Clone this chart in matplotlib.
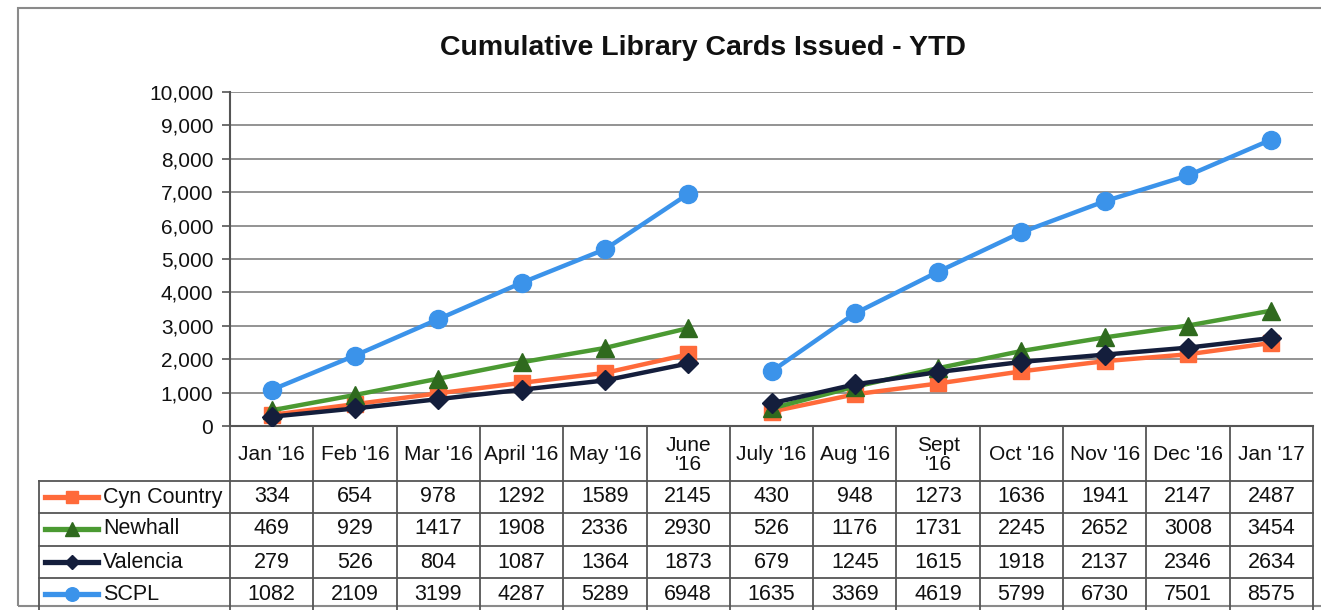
import numpy as np
import matplotlib
matplotlib.use('Agg')
import matplotlib.pyplot as plt
import matplotlib.transforms as mtransforms
from matplotlib.lines import Line2D
from matplotlib.patches import Rectangle

months = ["Jan '16", "Feb '16", "Mar '16", "April '16", "May '16", "June\n'16",
          "July '16", "Aug '16", "Sept\n'16", "Oct '16", "Nov '16", "Dec '16", "Jan '17"]
cyn_country = [334, 654, 978, 1292, 1589, 2145, 430, 948, 1273, 1636, 1941, 2147, 2487]
newhall = [469, 929, 1417, 1908, 2336, 2930, 526, 1176, 1731, 2245, 2652, 3008, 3454]
valencia = [279, 526, 804, 1087, 1364, 1873, 679, 1245, 1615, 1918, 2137, 2346, 2634]
scpl = [1082, 2109, 3199, 4287, 5289, 6948, 1635, 3369, 4619, 5799, 6730, 7501, 8575]

series_names = ['Cyn Country', 'Newhall', 'Valencia', 'SCPL']
series_vals = [cyn_country, newhall, valencia, scpl]
line_cols = ['#FF6A3A', '#4B9A32', '#141E3C', '#3B93EA']
marker_cols = ['#FF6A3A', '#2F6A1E', '#141E3C', '#3B93EA']
markers = ['s', '^', 'D', 'o']
msizes = [12, 13, 10, 13]

W, H = 1321, 610
plt.rcParams['font.family'] = ['Liberation Sans', 'DejaVu Sans']
fig = plt.figure(figsize=(W / 100, H / 100), dpi=100)

def fx(px):
    return px / W

def fy(py):
    return 1 - py / H

left, right, top, bottom = 230, 1313, 92, 426
ax = fig.add_axes([fx(left), fy(bottom), fx(right - left), (bottom - top) / H])

x = np.arange(len(months))
split = 6  # fiscal year restarts in July
for name, vals, lc, mc, mk, ms in zip(series_names, series_vals, line_cols,
                                      marker_cols, markers, msizes):
    v = np.array(vals, dtype=float)
    for seg in (slice(0, split), slice(split, len(months))):
        ax.plot(x[seg], v[seg], color=lc, lw=3.2, marker=mk, ms=ms,
                mfc=mc, mec=mc, zorder=3)

ax.set_xlim(-0.5, len(months) - 0.5)
ax.set_ylim(0, 10000)
ax.set_yticks(np.arange(0, 10001, 1000))
ax.set_yticklabels(['{:,}'.format(v) for v in range(0, 10001, 1000)], fontsize=15, color='#111111')
ax.set_xticks([])
ax.grid(axis='y', color='#8a8a8a', lw=1.3, zorder=0)
ax.tick_params(axis='y', length=6, width=1.2, color='#555555', pad=6)
for s in ['top', 'right']:
    ax.spines[s].set_visible(False)
for s in ['left', 'bottom']:
    ax.spines[s].set_color('#555555')
    ax.spines[s].set_linewidth(1.5)

fig.text(fx(703), fy(48), 'Cumulative Library Cards Issued - YTD', ha='center', va='center',
         fontsize=20.5, fontweight='bold', color='#111111')

# data table under the chart
tr = mtransforms.blended_transform_factory(ax.transData, fig.transFigure)
grid_col = '#555555'
for i in range(len(months) + 1):
    fig.add_artist(Line2D([i - 0.5, i - 0.5], [fy(bottom), fy(H)], transform=tr,
                          color=grid_col, lw=1.3))
row_lines = [481, 513, 546, 578]
for ry in row_lines:
    fig.add_artist(Line2D([fx(39), fx(right)], [fy(ry), fy(ry)], transform=fig.transFigure,
                          color=grid_col, lw=1.3))
fig.add_artist(Line2D([fx(39), fx(39)], [fy(481), fy(H)], transform=fig.transFigure,
                      color=grid_col, lw=1.3))

for i, m in enumerate(months):
    fig.text(i, fy(455), m, transform=tr, ha='center', va='center', fontsize=15,
             color='#111111', linespacing=1.0)

row_centers = [497, 529, 562, 594]
for name, vals, lc, mc, mk, ms, ry in zip(series_names, series_vals, line_cols, marker_cols,
                                          markers, msizes, row_centers):
    fig.add_artist(Line2D([fx(45), fx(98)], [fy(ry), fy(ry)], transform=fig.transFigure,
                          color=lc, lw=3.8))
    fig.add_artist(Line2D([fx(72)], [fy(ry)], transform=fig.transFigure, marker=mk,
                          ms=ms * 0.75, mfc=mc, mec=mc, color=lc))
    fig.text(fx(103), fy(ry), name, ha='left', va='center', fontsize=15.5, color='#111111')
    for i, v in enumerate(vals):
        fig.text(i, fy(ry), str(v), transform=tr, ha='center', va='center',
                 fontsize=15.5, color='#111111')

# outer chart frame (runs off the right edge like the scan)
fig.add_artist(Rectangle((fx(18), fy(606)), fx(1340 - 18), (606 - 8) / H,
                         transform=fig.transFigure, fill=False, ec='#8a8a8a', lw=1.5))

fig.savefig('out.png', dpi=100)
